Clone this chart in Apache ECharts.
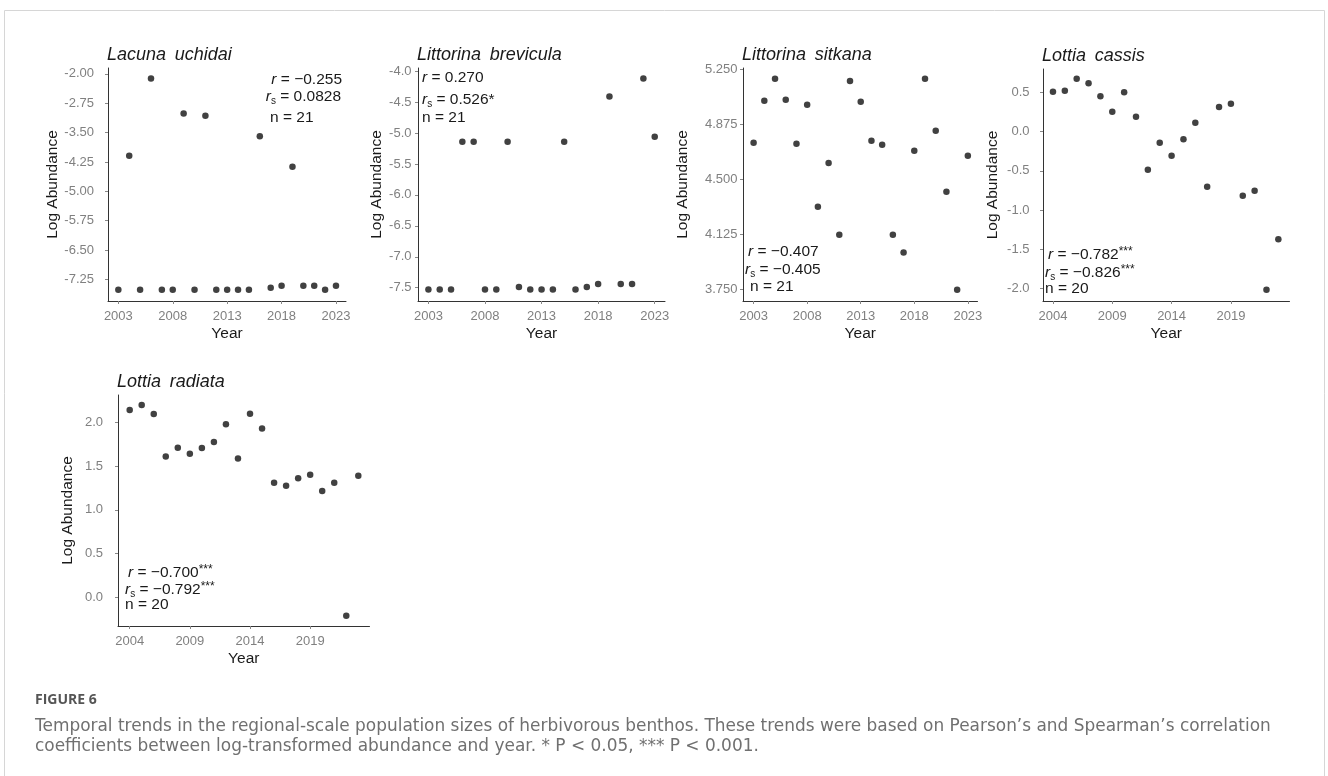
<!DOCTYPE html>
<html><head><meta charset="utf-8">
<script src="https://cdn.jsdelivr.net/npm/echarts@6/dist/echarts.min.js"></script>
<style>html,body{margin:0;padding:0;background:#fff}#c{width:1328px;height:776px}</style>
</head><body><div id="c"></div>
<script>
// ---------- data ----------
const years21 = [2003,2004,2005,2006,2007,2008,2009,2010,2011,2012,2013,2014,2015,2016,2017,2018,2019,2020,2021,2022,2023];
const years20 = [2004,2005,2006,2007,2008,2009,2010,2011,2012,2013,2014,2015,2016,2017,2018,2019,2020,2021,2022,2023];

const lacunaUchidai = [-7.51,-4.09,-7.51,-2.12,-7.51,-7.51,-3.01,-7.51,-3.07,-7.51,-7.51,-7.51,-7.51,-3.59,-7.46,-7.41,-4.37,-7.41,-7.41,-7.51,-7.41];
const littorinaBrevicula = [-7.53,-7.53,-7.53,-5.14,-5.14,-7.53,-7.53,-5.14,-7.49,-7.53,-7.53,-7.53,-5.14,-7.53,-7.49,-7.44,-4.41,-7.44,-7.44,-4.12,-5.06];
const littorinaSitkana = [4.749,5.035,5.184,5.042,4.742,5.008,4.314,4.612,4.124,5.168,5.028,4.763,4.736,4.124,4.002,4.695,5.184,4.831,4.416,3.750,4.661];
const lottiaCassis = [0.508,0.521,0.674,0.615,0.449,0.254,0.500,0.190,-0.485,-0.141,-0.306,-0.098,0.114,-0.701,0.313,0.356,-0.816,-0.752,-2.013,-1.372];
const lottiaRadiata = [2.141,2.198,2.095,1.608,1.710,1.642,1.707,1.775,1.977,1.585,2.099,1.928,1.310,1.276,1.360,1.402,1.215,1.310,-0.210,1.390];

const xTicksA = [2003,2008,2013,2018,2023];
const xTicksB = [2004,2009,2014,2019];
const yTicks1 = [-7.25,-6.5,-5.75,-5,-4.25,-3.5,-2.75,-2];
const yTicks2 = [-7.5,-7,-6.5,-6,-5.5,-5,-4.5,-4];
const yTicks3 = [3.75,4.125,4.5,4.875,5.25];
const yTicks4 = [-2,-1.5,-1,-0.5,0,0.5];
const yTicks5 = [0,0.5,1,1.5,2];

const titles = ['Lacuna \u2009uchidai','Littorina \u2009brevicula','Littorina \u2009sitkana','Lottia \u2009cassis','Lottia \u2009radiata'];
const statsR  = ['−0.255','0.270','−0.407','−0.782{p|***}','−0.700{p|***}'];
const statsRs = ['0.0828','0.526*','−0.405','−0.826{p|***}','−0.792{p|***}'];
const statsN  = ['21','21','21','20','20'];

const captionHead = 'FIGURE 6';
const captionLine1 = 'Temporal trends in the regional-scale population sizes of herbivorous benthos. These trends were based on Pearson’s and Spearman’s correlation';
const captionLine2 = 'coefficients between log-transformed abundance and year. * P < 0.05, *** P < 0.001.';

// ---------- layout / style ----------
const FONT = '"Liberation Sans", Arial, Helvetica, sans-serif';
const CAPFONT = '"DejaVu Sans", sans-serif';
const panels = [
  {years: years21, vals: lacunaUchidai, xt: xTicksA, yt: yTicks1, dec: 2,
   grid:{left:108, top:68, width:238, height:233}, xr:[2002.05,2023.92], yr:[-7.80,-1.85], lm:14, ng:47,
   ann:[{x:342,y:80,a:'right'},{x:341,y:97,a:'right'},{x:270,y:118,a:'left'}]},
  {years: years21, vals: littorinaBrevicula, xt: xTicksA, yt: yTicks2, dec: 1,
   grid:{left:418, top:68, width:247, height:233}, xr:[2002.08,2023.91], yr:[-7.715,-3.95], lm:6.5, ng:33,
   ann:[{x:422,y:78,a:'left'},{x:422,y:100,a:'left'},{x:422,y:118,a:'left'}]},
  {years: years21, vals: littorinaSitkana, xt: xTicksA, yt: yTicks3, dec: 3,
   grid:{left:743, top:68, width:234.5, height:233}, xr:[2002.01,2023.9], yr:[3.673,5.257], lm:5.5, ng:52,
   ann:[{x:748,y:252,a:'left'},{x:745,y:270,a:'left'},{x:750,y:287,a:'left'}]},
  {years: years20, vals: lottiaCassis, xt: xTicksB, yt: yTicks4, dec: 1,
   grid:{left:1043, top:69, width:246.5, height:232}, xr:[2003.16,2023.94], yr:[-2.157,0.797], lm:13.5, ng:42,
   ann:[{x:1048,y:255,a:'left'},{x:1045,y:273,a:'left'},{x:1045,y:289,a:'left'}]},
  {years: years20, vals: lottiaRadiata, xt: xTicksB, yt: yTicks5, dec: 1,
   grid:{left:118, top:395, width:251.5, height:231}, xr:[2003.03,2023.93], yr:[-0.328,2.312], lm:15, ng:42,
   ann:[{x:128,y:573,a:'left'},{x:125,y:590,a:'left'},{x:125,y:605,a:'left'}]}
];

const grids = [], xAxes = [], yAxes = [], series = [], graphics = [];
const rich = {
  i:{fontStyle:'italic', fontSize:15.5, fontFamily:FONT, fill:'#1a1a1a', lineHeight:18},
  s:{fontSize:10, fontFamily:FONT, fill:'#1a1a1a', lineHeight:10, verticalAlign:'bottom'},
  p:{fontSize:12, fontFamily:FONT, fill:'#1a1a1a', lineHeight:12, verticalAlign:'top'}
};

panels.forEach((p, k) => {
  grids.push(Object.assign({containLabel:false}, p.grid));
  xAxes.push({
    type:'value', gridIndex:k, min:p.xr[0], max:p.xr[1],
    name:'Year', nameLocation:'middle', nameGap:25,
    nameTextStyle:{fontSize:15.5, color:'#1a1a1a', fontFamily:FONT},
    axisLine:{show:true, onZero:false, lineStyle:{color:'#333', width:1}},
    axisTick:{show:true, length:3, customValues:p.xt, lineStyle:{color:'#888'}},
    axisLabel:{customValues:p.xt, color:'#808080', fontSize:13, fontFamily:FONT, margin:9,
      formatter:v => String(Math.round(v))},
    splitLine:{show:false}
  });
  yAxes.push({
    type:'value', gridIndex:k, min:p.yr[0], max:p.yr[1],
    name:'Log Abundance', nameLocation:'middle', nameGap:p.ng,
    nameTextStyle:{fontSize:15.5, color:'#1a1a1a', fontFamily:FONT},
    axisLine:{show:true, onZero:false, lineStyle:{color:'#333', width:1}},
    axisTick:{show:true, length:3, customValues:p.yt, lineStyle:{color:'#888'}},
    axisLabel:{customValues:p.yt, color:'#808080', fontSize:13, fontFamily:FONT, margin:p.lm,
      formatter:v => v.toFixed(p.dec)},
    splitLine:{show:false}
  });
  series.push({
    type:'scatter', xAxisIndex:k, yAxisIndex:k, symbolSize:6.5,
    itemStyle:{color:'#111'}, silent:true,
    data:p.years.map((y,i)=>[y, p.vals[i]])
  });
  // title
  graphics.push({type:'text', x:p.grid.left - 1, y:p.grid.top - 13,
    style:{text:titles[k], fontSize:18, fontStyle:'italic', fontFamily:FONT, fill:'#1a1a1a', verticalAlign:'middle'}});
  // annotations
  const lines = ['{i|r} = ' + statsR[k], '{i|r}{s|s} = ' + statsRs[k], 'n = ' + statsN[k]];
  lines.forEach((t, j) => {
    const a = p.ann[j];
    graphics.push({type:'text', x:a.x, y:a.y,
      style:{text:t, align:a.a, verticalAlign:'middle', fontSize:15.5, fontFamily:FONT,
        fill:'#1a1a1a', lineHeight:18, rich:rich}});
  });
});

// caption font size fitted to the reference line width
const mctx = document.createElement('canvas').getContext('2d');
mctx.font = '16px ' + CAPFONT;
const capSize = Math.max(12, Math.min(20, 16 * 1237 / mctx.measureText(captionLine1).width));

// frame and caption
graphics.push({type:'rect', shape:{x:4.5, y:10.5, width:1320, height:800},
  style:{fill:'none', stroke:'#d6d6d6', lineWidth:1}, z:-1});
graphics.push({type:'text', x:35, y:700, style:{text:captionHead, fontSize:14, fontWeight:'bold',
  fontFamily:'"Open Sans", sans-serif', fill:'#555', verticalAlign:'middle'}});
graphics.push({type:'text', x:35, y:727, style:{text:captionLine1,
  fontSize:capSize, fontFamily:CAPFONT, fill:'#707070', verticalAlign:'middle'}});
graphics.push({type:'text', x:35, y:747, style:{text:captionLine2,
  fontSize:capSize, fontFamily:CAPFONT, fill:'#707070', verticalAlign:'middle'}});

const chart = echarts.init(document.getElementById('c'), null, {renderer:'canvas'});
chart.setOption({
  backgroundColor:'#ffffff', animation:false,
  grid:grids, xAxis:xAxes, yAxis:yAxes, series:series, graphic:graphics
});
</script></body></html>
